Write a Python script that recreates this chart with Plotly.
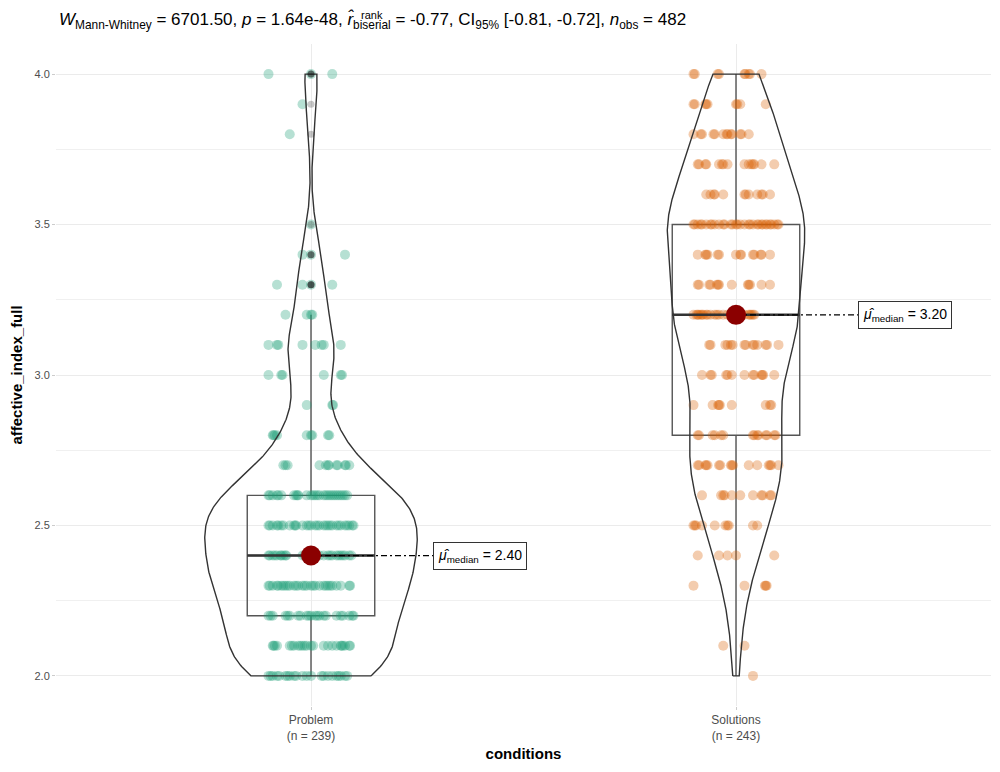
import numpy as np
import plotly.graph_objects as go

conditions = ["Problem", "Solutions"]
tick_labels = ["Problem<br>(n = 239)", "Solutions<br>(n = 243)"]
point_colors = ["rgba(27,158,119,0.32)", "rgba(217,95,2,0.32)"]

# rating levels of each group and the horizontal jitter of every dot on that level
problem_levels = [2.0, 2.1, 2.2, 2.3, 2.4, 2.5, 2.6, 2.7, 2.8, 2.9, 3.0, 3.1, 3.2, 3.3, 3.4, 3.5, 3.8, 3.9, 4.0]
problem_jitter = [
    [-0.10, -0.095, -0.09, -0.08, -0.075, -0.06, -0.055, -0.05, -0.04, -0.035, -0.01, 0.00, 0.025, 0.03, 0.04, 0.05, 0.06, 0.065, 0.07, 0.08, 0.085, -0.02],
    [-0.09, -0.088, -0.085, -0.08, -0.05, -0.045, -0.04, -0.03, -0.025, -0.02, -0.015, -0.01, 0.00, 0.005, 0.04, 0.05, 0.06, 0.07, 0.072, 0.075, 0.08, 0.09, 0.092, 0.03],
    [-0.10, -0.095, -0.09, -0.06, -0.055, -0.05, -0.03, -0.025, -0.01, -0.005, 0.00, 0.01, 0.015, 0.02, 0.03, 0.035, 0.06, 0.07, 0.075, 0.09, 0.10, 0.097],
    [-0.10, -0.097, -0.09, -0.08, -0.077, -0.07, -0.065, -0.06, -0.055, -0.05, -0.04, -0.035, -0.03, -0.02, -0.01, 0.00, 0.005, 0.01, 0.02, 0.03, 0.035, 0.04, 0.045, 0.05, 0.06, 0.07, 0.09, 0.092, -0.015],
    [-0.10, -0.097, -0.09, -0.07, -0.065, -0.06, -0.072, -0.058, -0.08, -0.02, -0.015, -0.01, 0.00, 0.005, 0.01, 0.02, 0.03, 0.04, 0.045, 0.05, 0.06, 0.065, 0.07, 0.075, 0.08, 0.09, 0.095, -0.085],
    [-0.10, -0.097, -0.09, -0.08, -0.077, -0.07, -0.065, -0.05, -0.04, -0.037, -0.035, -0.02, -0.01, -0.005, 0.00, 0.01, 0.015, 0.02, 0.03, 0.04, 0.045, 0.05, 0.06, 0.065, 0.07, 0.08, 0.085, 0.09, 0.10, 0.097, 0.035],
    [-0.10, -0.097, -0.09, -0.08, -0.077, -0.07, -0.04, -0.035, -0.032, -0.03, -0.01, 0.00, 0.005, 0.01, 0.015, 0.02, 0.03, 0.035, 0.04, 0.045, 0.05, 0.055, 0.06, 0.065, 0.07, 0.08, 0.085, 0.075],
    [-0.065, -0.06, -0.055, 0.02, 0.035, 0.04, 0.042, 0.06, 0.063, 0.08, 0.082, 0.09],
    [-0.09, -0.088, -0.085, -0.08, -0.01, 0.00, 0.003, 0.04, 0.043],
    [-0.01, 0.05, 0.052],
    [-0.10, -0.07, -0.067, 0.03, 0.07, 0.073],
    [-0.10, -0.08, -0.077, -0.02, 0.01, 0.025, 0.03, 0.07],
    [-0.06, -0.01, 0.00, 0.003],
    [-0.08, -0.02, 0.00, 0.05],
    [-0.02, 0.00, 0.08],
    [0.00],
    [-0.05],
    [-0.02],
    [-0.10, 0.00, 0.05],
]

solutions_levels = [2.0, 2.1, 2.3, 2.4, 2.5, 2.6, 2.7, 2.8, 2.9, 3.0, 3.1, 3.2, 3.3, 3.4, 3.5, 3.6, 3.7, 3.8, 3.9, 4.0]
solutions_jitter = [
    [0.04],
    [-0.03, 0.02],
    [-0.10, 0.02, 0.068, 0.07, 0.072],
    [-0.09, -0.04, -0.02, 0.00, 0.09],
    [-0.10, -0.097, -0.094, -0.08, -0.05, -0.025, -0.02, -0.017, 0.04, 0.05],
    [-0.08, -0.035, -0.03, -0.027, -0.01, 0.01, 0.04, 0.06, 0.08, 0.083, 0.063],
    [-0.09, -0.087, -0.072, -0.07, -0.067, -0.04, -0.012, -0.01, -0.007, 0.03, 0.05, 0.077, 0.08, 0.083, 0.10, -0.037],
    [-0.09, -0.087, -0.055, -0.05, -0.035, -0.03, 0.04, 0.043, 0.05, 0.053, 0.07, 0.073, 0.09, 0.093],
    [-0.10, -0.055, -0.042, -0.04, -0.038, -0.01, 0.07, 0.08, 0.083],
    [-0.08, -0.06, -0.057, -0.02, -0.01, 0.02, 0.04, 0.043, 0.06, 0.062, 0.064, 0.09, -0.023],
    [-0.06, -0.025, -0.02, -0.012, -0.008, 0.02, 0.023, 0.04, 0.043, 0.05, 0.07, 0.073, 0.10, -0.063],
    [-0.10, -0.09, -0.088, -0.08, -0.077, -0.07, -0.067, -0.06, -0.05, -0.045, -0.04, -0.03, -0.02, -0.01, 0.00, 0.005, 0.01, 0.02, 0.03, 0.033, 0.04, 0.043, -0.083, -0.093, 0.036, 0.013],
    [-0.09, -0.06, -0.045, -0.042, -0.04, -0.01, 0.03, 0.033, 0.06, 0.08, -0.063, -0.087, 0.028],
    [-0.09, -0.07, -0.067, -0.04, 0.00, 0.01, 0.04, 0.043, 0.06, 0.08, -0.043, 0.012, 0.058, -0.072],
    [-0.10, -0.097, -0.09, -0.08, -0.07, -0.06, -0.057, -0.05, -0.04, -0.03, -0.027, -0.012, -0.008, 0.00, 0.003, 0.01,
     0.02, 0.03, 0.033, 0.04, 0.05, 0.053, 0.06, 0.07, 0.073, 0.08, 0.083, 0.09, 0.10, 0.097, -0.083, 0.063],
    [-0.07, -0.06, -0.05, -0.03, 0.02, 0.023, 0.03, 0.05, 0.06, 0.063, 0.08, -0.052],
    [-0.09, -0.087, -0.072, -0.07, -0.04, -0.033, -0.03, -0.02, 0.02, 0.03, 0.04, 0.043, 0.06, 0.09, 0.036],
    [-0.10, -0.083, -0.08, -0.053, -0.05, -0.03, -0.02, -0.012, -0.01, 0.01, 0.013, 0.03, -0.022],
    [-0.10, -0.072, -0.07, -0.067, 0.00, 0.003, 0.01, 0.07, -0.097],
    [-0.10, -0.097, -0.043, -0.04, 0.02, 0.022, 0.03, 0.033, 0.06],
]

title_text = ("<i>W</i><sub>Mann-Whitney</sub> = 6701.50, <i>p</i> = 1.64e-48, "
              "<i>r&#770;</i><sub>biserial</sub> = -0.77, CI<sub>95%</sub> [-0.81, -0.72], "
              "<i>n</i><sub>obs</sub> = 482")

FONT = "Liberation Sans, Arial, sans-serif"
# the page body adds an 8px margin, so the figure is sized to fit the window
W, H = 984, 756
L, R, T, B = 48, 1, 36, 58
PLOT_L, PLOT_T, PLOT_W, PLOT_H = 56, 44, 935, 662


def px(x):
    return (x - PLOT_L) / PLOT_W


def py(y):
    return (PLOT_T + PLOT_H - y) / PLOT_H


def nrd0(v):
    q1, q3 = np.percentile(v, [25, 75])
    return 0.9 * min(v.std(ddof=1), (q3 - q1) / 1.34) * len(v) ** -0.2


def density(v):
    grid = np.linspace(v.min(), v.max(), 512)
    bw = nrd0(v)
    d = np.exp(-0.5 * ((grid[:, None] - v[None, :]) / bw) ** 2).sum(axis=1)
    return grid, d / (len(v) * bw * np.sqrt(2 * np.pi))


groups = []
for levels, jitter in [(problem_levels, problem_jitter), (solutions_levels, solutions_jitter)]:
    y = np.repeat(levels, [len(j) for j in jitter])
    dx = np.concatenate([np.array(j, dtype=float) for j in jitter])
    groups.append((y, dx))

dens = [density(y) for y, _ in groups]
dmax = max(d.max() for _, d in dens)

fig = go.Figure()
for i, (y, dx) in enumerate(groups):
    pos = i + 1
    q1, med, q3 = np.percentile(y, [25, 50, 75])
    iqr = q3 - q1
    inside = y[(y >= q1 - 1.5 * iqr - 1e-9) & (y <= q3 + 1.5 * iqr + 1e-9)]
    lo, hi = inside.min(), inside.max()
    out = y[(y < lo) | (y > hi)]

    fig.add_trace(go.Scatter(x=pos + dx, y=y, mode="markers",
                             marker=dict(color=point_colors[i], size=10, line=dict(width=0)),
                             hoverinfo="skip"))

    # violin outline, scaled by area across both groups (width 0.5)
    grid, d = dens[i]
    half = 0.25 * d / dmax
    vx = np.concatenate([pos - half, (pos + half)[::-1], [pos - half[0]]])
    vy = np.concatenate([grid, grid[::-1], [grid[0]]])
    fig.add_trace(go.Scatter(x=vx, y=vy, mode="lines", line=dict(color="#333333", width=1.4),
                             hoverinfo="skip"))

    fig.add_trace(go.Box(x=[pos], q1=[q1], median=[med], q3=[q3], lowerfence=[lo], upperfence=[hi],
                         width=0.3, whiskerwidth=0, boxpoints=False,
                         line=dict(color="#555555", width=1.4), fillcolor="rgba(0,0,0,0)",
                         hoverinfo="skip"))
    if len(out):
        fig.add_trace(go.Scatter(x=[pos] * len(out), y=out, mode="markers",
                                 marker=dict(color="rgba(0,0,0,0.22)", size=7), hoverinfo="skip"))
    fig.add_trace(go.Scatter(x=[pos - 0.15, pos + 0.15], y=[med, med], mode="lines",
                             line=dict(color="#333333", width=2.6), hoverinfo="skip"))
    fig.add_trace(go.Scatter(x=[pos, pos + 0.287], y=[med, med], mode="lines",
                             line=dict(color="black", width=1.2, dash="6px,3px,2px,3px"), hoverinfo="skip"))
    fig.add_trace(go.Scatter(x=[pos], y=[med], mode="markers",
                             marker=dict(color="#8B0000", size=20), hoverinfo="skip"))
    fig.add_annotation(x=pos + 0.287, y=med, xanchor="left", yanchor="middle", showarrow=False,
                       text=f"<i>&#956;&#770;</i><sub>median</sub> = {med:.2f}",
                       font=dict(size=14, color="black", family=FONT),
                       bgcolor="white", bordercolor="#333333", borderwidth=1, borderpad=4)

fig.add_annotation(xref="paper", yref="paper", x=px(57), y=py(21), xanchor="left", yanchor="middle",
                   showarrow=False, text=title_text, font=dict(size=17, color="black", family=FONT))
fig.add_annotation(xref="paper", yref="paper", x=px(359), y=py(15), xanchor="left", yanchor="middle",
                   showarrow=False, text="rank", font=dict(size=11, color="black", family=FONT))

fig.update_layout(
    width=W, height=H, margin=dict(l=L, r=R, t=T, b=B),
    paper_bgcolor="white", plot_bgcolor="white", showlegend=False,
    boxmode="overlay",
    font=dict(family=FONT, color="#4d4d4d"),
)
fig.update_xaxes(range=[0.4, 2.6], tickvals=[1, 2], ticktext=tick_labels, showgrid=True, automargin=False,
                 gridcolor="#ebebeb", gridwidth=1, zeroline=False, ticks="outside", ticklen=3,
                 tickcolor="#cccccc", tickfont=dict(size=12, color="#4d4d4d"),
                 title=dict(text="<b>conditions</b>", font=dict(size=15, color="black"), standoff=6))
fig.update_yaxes(range=[1.9, 4.1], tick0=2, dtick=0.5, tickformat=".1f", showgrid=True, automargin=False,
                 gridcolor="#ebebeb", gridwidth=1, zeroline=False, ticks="outside", ticklen=3,
                 tickcolor="#cccccc", tickfont=dict(size=11, color="#4d4d4d"),
                 minor=dict(dtick=0.25, tick0=2, showgrid=True, gridcolor="#f0f0f0", gridwidth=1),
                 title=dict(text="<b>affective_index_full</b>", font=dict(size=15, color="black"), standoff=10))

fig.write_html("out.html")
